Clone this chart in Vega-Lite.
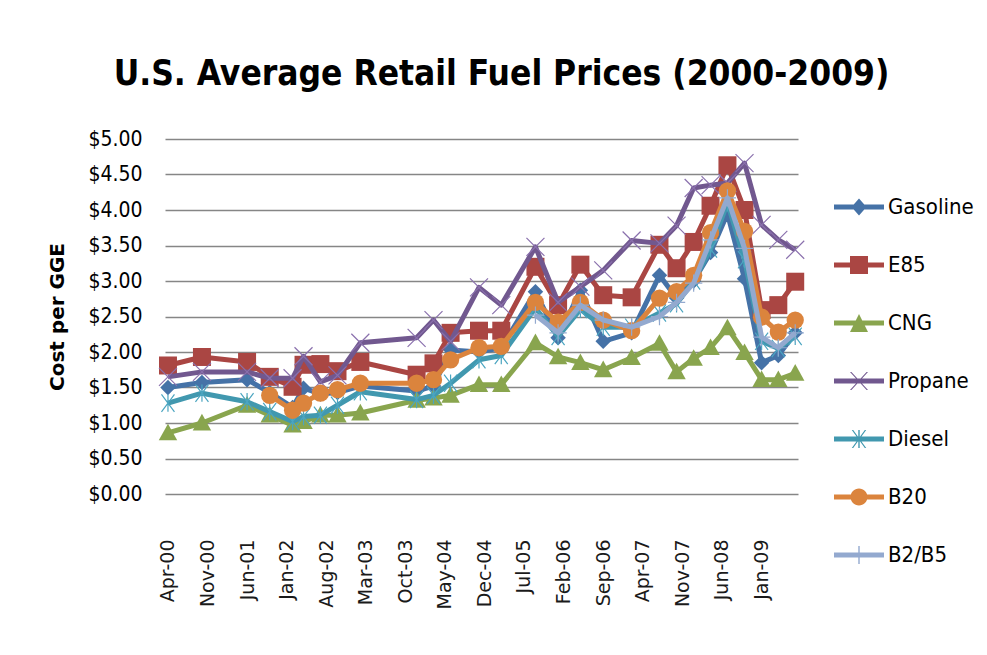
{
"$schema":"https://vega.github.io/schema/vega-lite/v6.json",
"width":633,"height":355,
"autosize":{"type":"none"},
"padding":{"left":165,"top":139,"right":189,"bottom":161},
"background":"white",
"title":{"text":"U.S. Average Retail Fuel Prices (2000-2009)","font":"DejaVu Sans Condensed","fontSize":35,"fontWeight":"bold","color":"#000","anchor":"middle","frame":"group","dx":20,"offset":36},
"data":{"values":[
{"date":"2000-04-01","fuel":"Gasoline","price":1.50},
{"date":"2000-10-01","fuel":"Gasoline","price":1.57},
{"date":"2001-06-01","fuel":"Gasoline","price":1.61},
{"date":"2001-10-01","fuel":"Gasoline","price":1.43},
{"date":"2002-02-01","fuel":"Gasoline","price":1.22},
{"date":"2002-04-01","fuel":"Gasoline","price":1.49},
{"date":"2002-07-01","fuel":"Gasoline","price":1.41},
{"date":"2002-10-01","fuel":"Gasoline","price":1.43},
{"date":"2003-02-01","fuel":"Gasoline","price":1.52},
{"date":"2003-12-01","fuel":"Gasoline","price":1.45},
{"date":"2004-03-01","fuel":"Gasoline","price":1.52},
{"date":"2004-06-01","fuel":"Gasoline","price":2.03},
{"date":"2004-11-01","fuel":"Gasoline","price":2.00},
{"date":"2005-03-01","fuel":"Gasoline","price":2.06},
{"date":"2005-09-01","fuel":"Gasoline","price":2.85},
{"date":"2006-01-01","fuel":"Gasoline","price":2.20},
{"date":"2006-05-01","fuel":"Gasoline","price":2.87},
{"date":"2006-09-01","fuel":"Gasoline","price":2.15},
{"date":"2007-02-01","fuel":"Gasoline","price":2.27},
{"date":"2007-07-01","fuel":"Gasoline","price":3.08},
{"date":"2007-10-01","fuel":"Gasoline","price":2.76},
{"date":"2008-01-01","fuel":"Gasoline","price":3.00},
{"date":"2008-04-01","fuel":"Gasoline","price":3.40},
{"date":"2008-07-01","fuel":"Gasoline","price":3.95},
{"date":"2008-10-01","fuel":"Gasoline","price":3.03},
{"date":"2009-01-01","fuel":"Gasoline","price":1.85},
{"date":"2009-04-01","fuel":"Gasoline","price":1.95},
{"date":"2009-07-01","fuel":"Gasoline","price":2.27},
{"date":"2000-04-01","fuel":"E85","price":1.81},
{"date":"2000-10-01","fuel":"E85","price":1.93},
{"date":"2001-06-01","fuel":"E85","price":1.86},
{"date":"2001-10-01","fuel":"E85","price":1.65},
{"date":"2002-02-01","fuel":"E85","price":1.51},
{"date":"2002-04-01","fuel":"E85","price":1.82},
{"date":"2002-07-01","fuel":"E85","price":1.83},
{"date":"2002-10-01","fuel":"E85","price":1.73},
{"date":"2003-02-01","fuel":"E85","price":1.86},
{"date":"2003-12-01","fuel":"E85","price":1.68},
{"date":"2004-03-01","fuel":"E85","price":1.84},
{"date":"2004-06-01","fuel":"E85","price":2.27},
{"date":"2004-11-01","fuel":"E85","price":2.30},
{"date":"2005-03-01","fuel":"E85","price":2.30},
{"date":"2005-09-01","fuel":"E85","price":3.20},
{"date":"2006-01-01","fuel":"E85","price":2.66},
{"date":"2006-05-01","fuel":"E85","price":3.23},
{"date":"2006-09-01","fuel":"E85","price":2.80},
{"date":"2007-02-01","fuel":"E85","price":2.77},
{"date":"2007-07-01","fuel":"E85","price":3.51},
{"date":"2007-10-01","fuel":"E85","price":3.18},
{"date":"2008-01-01","fuel":"E85","price":3.55},
{"date":"2008-04-01","fuel":"E85","price":4.06},
{"date":"2008-07-01","fuel":"E85","price":4.63},
{"date":"2008-10-01","fuel":"E85","price":4.00},
{"date":"2009-01-01","fuel":"E85","price":2.59},
{"date":"2009-04-01","fuel":"E85","price":2.66},
{"date":"2009-07-01","fuel":"E85","price":2.99},
{"date":"2000-04-01","fuel":"CNG","price":0.86},
{"date":"2000-10-01","fuel":"CNG","price":1.00},
{"date":"2001-06-01","fuel":"CNG","price":1.25},
{"date":"2001-10-01","fuel":"CNG","price":1.11},
{"date":"2002-02-01","fuel":"CNG","price":0.97},
{"date":"2002-04-01","fuel":"CNG","price":1.02},
{"date":"2002-07-01","fuel":"CNG","price":1.11},
{"date":"2002-10-01","fuel":"CNG","price":1.11},
{"date":"2003-02-01","fuel":"CNG","price":1.14},
{"date":"2003-12-01","fuel":"CNG","price":1.32},
{"date":"2004-03-01","fuel":"CNG","price":1.35},
{"date":"2004-06-01","fuel":"CNG","price":1.39},
{"date":"2004-11-01","fuel":"CNG","price":1.54},
{"date":"2005-03-01","fuel":"CNG","price":1.54},
{"date":"2005-09-01","fuel":"CNG","price":2.13},
{"date":"2006-01-01","fuel":"CNG","price":1.93},
{"date":"2006-05-01","fuel":"CNG","price":1.85},
{"date":"2006-09-01","fuel":"CNG","price":1.75},
{"date":"2007-02-01","fuel":"CNG","price":1.92},
{"date":"2007-07-01","fuel":"CNG","price":2.12},
{"date":"2007-10-01","fuel":"CNG","price":1.72},
{"date":"2008-01-01","fuel":"CNG","price":1.91},
{"date":"2008-04-01","fuel":"CNG","price":2.06},
{"date":"2008-07-01","fuel":"CNG","price":2.34},
{"date":"2008-10-01","fuel":"CNG","price":1.99},
{"date":"2009-01-01","fuel":"CNG","price":1.61},
{"date":"2009-04-01","fuel":"CNG","price":1.61},
{"date":"2009-07-01","fuel":"CNG","price":1.70},
{"date":"2000-04-01","fuel":"Propane","price":1.65},
{"date":"2000-10-01","fuel":"Propane","price":1.72},
{"date":"2001-06-01","fuel":"Propane","price":1.72},
{"date":"2001-10-01","fuel":"Propane","price":1.63},
{"date":"2002-02-01","fuel":"Propane","price":1.63},
{"date":"2002-04-01","fuel":"Propane","price":1.94},
{"date":"2002-07-01","fuel":"Propane","price":1.58},
{"date":"2002-10-01","fuel":"Propane","price":1.67},
{"date":"2003-02-01","fuel":"Propane","price":2.13},
{"date":"2003-12-01","fuel":"Propane","price":2.20},
{"date":"2004-03-01","fuel":"Propane","price":2.45},
{"date":"2004-06-01","fuel":"Propane","price":2.15},
{"date":"2004-11-01","fuel":"Propane","price":2.91},
{"date":"2005-03-01","fuel":"Propane","price":2.66},
{"date":"2005-09-01","fuel":"Propane","price":3.48},
{"date":"2006-01-01","fuel":"Propane","price":2.70},
{"date":"2006-05-01","fuel":"Propane","price":2.92},
{"date":"2006-09-01","fuel":"Propane","price":3.15},
{"date":"2007-02-01","fuel":"Propane","price":3.57},
{"date":"2007-07-01","fuel":"Propane","price":3.53},
{"date":"2007-10-01","fuel":"Propane","price":3.78},
{"date":"2008-01-01","fuel":"Propane","price":4.31},
{"date":"2008-04-01","fuel":"Propane","price":4.35},
{"date":"2008-07-01","fuel":"Propane","price":4.38},
{"date":"2008-10-01","fuel":"Propane","price":4.66},
{"date":"2009-01-01","fuel":"Propane","price":3.79},
{"date":"2009-04-01","fuel":"Propane","price":3.58},
{"date":"2009-07-01","fuel":"Propane","price":3.44},
{"date":"2000-04-01","fuel":"Diesel","price":1.28},
{"date":"2000-10-01","fuel":"Diesel","price":1.42},
{"date":"2001-06-01","fuel":"Diesel","price":1.30},
{"date":"2001-10-01","fuel":"Diesel","price":1.16},
{"date":"2002-02-01","fuel":"Diesel","price":1.02},
{"date":"2002-04-01","fuel":"Diesel","price":1.09},
{"date":"2002-07-01","fuel":"Diesel","price":1.11},
{"date":"2002-10-01","fuel":"Diesel","price":1.25},
{"date":"2003-02-01","fuel":"Diesel","price":1.44},
{"date":"2003-12-01","fuel":"Diesel","price":1.33},
{"date":"2004-03-01","fuel":"Diesel","price":1.39},
{"date":"2004-06-01","fuel":"Diesel","price":1.56},
{"date":"2004-11-01","fuel":"Diesel","price":1.89},
{"date":"2005-03-01","fuel":"Diesel","price":1.95},
{"date":"2005-09-01","fuel":"Diesel","price":2.62},
{"date":"2006-01-01","fuel":"Diesel","price":2.22},
{"date":"2006-05-01","fuel":"Diesel","price":2.60},
{"date":"2006-09-01","fuel":"Diesel","price":2.35},
{"date":"2007-02-01","fuel":"Diesel","price":2.35},
{"date":"2007-07-01","fuel":"Diesel","price":2.55},
{"date":"2007-10-01","fuel":"Diesel","price":2.68},
{"date":"2008-01-01","fuel":"Diesel","price":3.00},
{"date":"2008-04-01","fuel":"Diesel","price":3.45},
{"date":"2008-07-01","fuel":"Diesel","price":4.10},
{"date":"2008-10-01","fuel":"Diesel","price":3.30},
{"date":"2009-01-01","fuel":"Diesel","price":2.15},
{"date":"2009-04-01","fuel":"Diesel","price":2.05},
{"date":"2009-07-01","fuel":"Diesel","price":2.22},
{"date":"2001-10-01","fuel":"B20","price":1.39},
{"date":"2002-02-01","fuel":"B20","price":1.18},
{"date":"2002-04-01","fuel":"B20","price":1.28},
{"date":"2002-07-01","fuel":"B20","price":1.42},
{"date":"2002-10-01","fuel":"B20","price":1.47},
{"date":"2003-02-01","fuel":"B20","price":1.56},
{"date":"2003-12-01","fuel":"B20","price":1.56},
{"date":"2004-03-01","fuel":"B20","price":1.61},
{"date":"2004-06-01","fuel":"B20","price":1.89},
{"date":"2004-11-01","fuel":"B20","price":2.06},
{"date":"2005-03-01","fuel":"B20","price":2.08},
{"date":"2005-09-01","fuel":"B20","price":2.70},
{"date":"2006-01-01","fuel":"B20","price":2.42},
{"date":"2006-05-01","fuel":"B20","price":2.70},
{"date":"2006-09-01","fuel":"B20","price":2.45},
{"date":"2007-02-01","fuel":"B20","price":2.30},
{"date":"2007-07-01","fuel":"B20","price":2.76},
{"date":"2007-10-01","fuel":"B20","price":2.85},
{"date":"2008-01-01","fuel":"B20","price":3.08},
{"date":"2008-04-01","fuel":"B20","price":3.68},
{"date":"2008-07-01","fuel":"B20","price":4.27},
{"date":"2008-10-01","fuel":"B20","price":3.70},
{"date":"2009-01-01","fuel":"B20","price":2.49},
{"date":"2009-04-01","fuel":"B20","price":2.28},
{"date":"2009-07-01","fuel":"B20","price":2.45},
{"date":"2005-09-01","fuel":"B2/B5","price":2.52},
{"date":"2006-01-01","fuel":"B2/B5","price":2.27},
{"date":"2006-05-01","fuel":"B2/B5","price":2.66},
{"date":"2006-09-01","fuel":"B2/B5","price":2.45},
{"date":"2007-02-01","fuel":"B2/B5","price":2.35},
{"date":"2007-07-01","fuel":"B2/B5","price":2.50},
{"date":"2007-10-01","fuel":"B2/B5","price":2.70},
{"date":"2008-01-01","fuel":"B2/B5","price":2.97},
{"date":"2008-04-01","fuel":"B2/B5","price":3.58},
{"date":"2008-07-01","fuel":"B2/B5","price":4.17},
{"date":"2008-10-01","fuel":"B2/B5","price":3.46},
{"date":"2009-01-01","fuel":"B2/B5","price":2.21},
{"date":"2009-04-01","fuel":"B2/B5","price":2.06},
{"date":"2009-07-01","fuel":"B2/B5","price":2.27}
]},
"encoding":{
  "x":{"field":"date","type":"temporal",
    "scale":{"type":"utc","domain":[{"year":2000,"month":3,"date":16,"utc":true},{"year":2009,"month":7,"date":16,"utc":true}]},
    "axis":{"title":null,"labelExpr":"utcFormat(datum.value, '%b-%y')","labelAngle":270,"labelFont":"DejaVu Sans","labelFontSize":19,"labelColor":"#1a1a1a","labelPadding":45,"labelOverlap":false,"labelBound":false,"domain":false,"ticks":false,"grid":false,
      "values":[{"year":2000,"month":4,"date":1,"utc":true},{"year":2000,"month":11,"date":1,"utc":true},{"year":2001,"month":6,"date":1,"utc":true},{"year":2002,"month":1,"date":1,"utc":true},{"year":2002,"month":8,"date":1,"utc":true},{"year":2003,"month":3,"date":1,"utc":true},{"year":2003,"month":10,"date":1,"utc":true},{"year":2004,"month":5,"date":1,"utc":true},{"year":2004,"month":12,"date":1,"utc":true},{"year":2005,"month":7,"date":1,"utc":true},{"year":2006,"month":2,"date":1,"utc":true},{"year":2006,"month":9,"date":1,"utc":true},{"year":2007,"month":4,"date":1,"utc":true},{"year":2007,"month":11,"date":1,"utc":true},{"year":2008,"month":6,"date":1,"utc":true},{"year":2009,"month":1,"date":1,"utc":true}]}},
  "y":{"field":"price","type":"quantitative",
    "scale":{"domain":[0,5],"nice":false,"zero":true},
    "axis":{"title":"Cost per GGE","titleFont":"DejaVu Sans","titleFontSize":20,"titleFontWeight":"bold","titleColor":"#000","titlePadding":20,
      "values":[0,0.5,1,1.5,2,2.5,3,3.5,4,4.5,5],"format":"$.2f","labelFont":"DejaVu Sans Condensed","labelFontSize":21,"labelColor":"#000","labelPadding":23,
      "domain":false,"ticks":false,"grid":true,"gridColor":"#868686","gridWidth":1.5}}
},
"layer":[
  {"transform":[{"filter":"datum.fuel==='Gasoline'"}],"layer":[
    {"mark":{"type":"line","color":"#4572A7","strokeWidth":5,"strokeJoin":"round"},"encoding":{}},
    {"mark":{"type":"point","shape":"diamond","filled":true,"color":"#4572A7","size":240,"opacity":1},"encoding":{}}]},
  {"transform":[{"filter":"datum.fuel==='E85'"}],"layer":[
    {"mark":{"type":"line","color":"#AA4643","strokeWidth":5,"strokeJoin":"round"},"encoding":{}},
    {"mark":{"type":"point","shape":"square","filled":true,"color":"#AA4643","size":324,"opacity":1},"encoding":{}}]},
  {"transform":[{"filter":"datum.fuel==='CNG'"}],"layer":[
    {"mark":{"type":"line","color":"#89A54E","strokeWidth":5,"strokeJoin":"round"},"encoding":{}},
    {"mark":{"type":"point","shape":"M0,-1L1,0.8L-1,0.8Z","filled":true,"color":"#89A54E","size":340,"opacity":1},"encoding":{}}]},
  {"transform":[{"filter":"datum.fuel==='Propane'"}],"layer":[
    {"mark":{"type":"line","color":"#71588F","strokeWidth":5,"strokeJoin":"round"},"encoding":{}},
    {"mark":{"type":"point","shape":"M-1,-1L1,1M-1,1L1,-1","filled":false,"color":"#8A70AD","strokeWidth":1.2,"size":324,"opacity":1},"encoding":{}}]},
  {"transform":[{"filter":"datum.fuel==='Diesel'"}],"layer":[
    {"mark":{"type":"line","color":"#4198AF","strokeWidth":5,"strokeJoin":"round"},"encoding":{}},
    {"mark":{"type":"point","shape":"M-0.75,-1L0.75,1M0.75,-1L-0.75,1M0,-1L0,1","filled":false,"color":"#4BA5C0","strokeWidth":1.2,"size":300,"opacity":1},"encoding":{}}]},
  {"transform":[{"filter":"datum.fuel==='B20'"}],"layer":[
    {"mark":{"type":"line","color":"#DB843D","strokeWidth":5,"strokeJoin":"round"},"encoding":{}},
    {"mark":{"type":"point","shape":"circle","filled":true,"color":"#DB843D","size":300,"opacity":1},"encoding":{}}]},
  {"transform":[{"filter":"datum.fuel==='B2/B5'"}],"layer":[
    {"mark":{"type":"line","color":"#93A9CF","strokeWidth":5,"strokeJoin":"round"},"encoding":{}},
    {"mark":{"type":"point","shape":"M-1,0L1,0M0,-1L0,1","filled":false,"color":"#93A9CF","strokeWidth":1.2,"size":300,"opacity":1},"encoding":{}}]},
  {"transform":[{"filter":"datum.price < 0"}],
   "mark":{"type":"point","filled":true,"opacity":1,"size":400},
   "encoding":{
     "color":{"field":"fuel","type":"nominal",
       "scale":{"domain":["Gasoline","E85","CNG","Propane","Diesel","B20","B2/B5"],"range":["#4572A7","#AA4643","#89A54E","#71588F","#4198AF","#DB843D","#93A9CF"]},
       "legend":{"title":null,"orient":"none","legendX":683,"legendY":57,"padding":0,"labelFont":"DejaVu Sans Condensed","labelFontSize":22,"labelColor":"#000","labelOffset":18,"symbolSize":400,"symbolStrokeWidth":0,"rowPadding":36,"symbolOpacity":1}},
     "shape":{"field":"fuel","type":"nominal",
       "scale":{"domain":["Gasoline","E85","CNG","Propane","Diesel","B20","B2/B5"],"range":[
         "M-2.5,-0.25L2.5,-0.25L2.5,0.25L-2.5,0.25Z M0,-0.85L0.75,0L0,0.85L-0.75,0Z",
         "M-2.5,-0.25L2.5,-0.25L2.5,0.25L-2.5,0.25Z M-0.9,-0.9L0.9,-0.9L0.9,0.9L-0.9,0.9Z",
         "M-2.5,-0.25L2.5,-0.25L2.5,0.25L-2.5,0.25Z M0,-0.9L0.9,0.9L-0.9,0.9Z",
         "M-2.5,-0.25L2.5,-0.25L2.5,0.25L-2.5,0.25Z M-0.9,-0.9L-0.76,-0.9L0.9,0.9L0.76,0.9Z M0.76,-0.9L0.9,-0.9L-0.76,0.9L-0.9,0.9Z",
         "M-2.5,-0.25L2.5,-0.25L2.5,0.25L-2.5,0.25Z M-0.72,-0.9L-0.58,-0.9L0.72,0.9L0.58,0.9Z M0.58,-0.9L0.72,-0.9L-0.58,0.9L-0.72,0.9Z M-0.07,-0.9L0.07,-0.9L0.07,0.9L-0.07,0.9Z",
         "M-2.5,-0.25L2.5,-0.25L2.5,0.25L-2.5,0.25Z M-0.85,0A0.85,0.85 0 1,1 0.85,0A0.85,0.85 0 1,1 -0.85,0Z",
         "M-2.5,-0.25L2.5,-0.25L2.5,0.25L-2.5,0.25Z M-0.07,-0.9L0.07,-0.9L0.07,0.9L-0.07,0.9Z"]},
       "legend":{"title":null,"orient":"none","legendX":683,"legendY":57,"padding":0,"labelFont":"DejaVu Sans Condensed","labelFontSize":22,"labelColor":"#000","labelOffset":18,"symbolSize":400,"symbolStrokeWidth":0,"rowPadding":36,"symbolOpacity":1}}
   }}
],
"config":{"view":{"stroke":null}}
}
